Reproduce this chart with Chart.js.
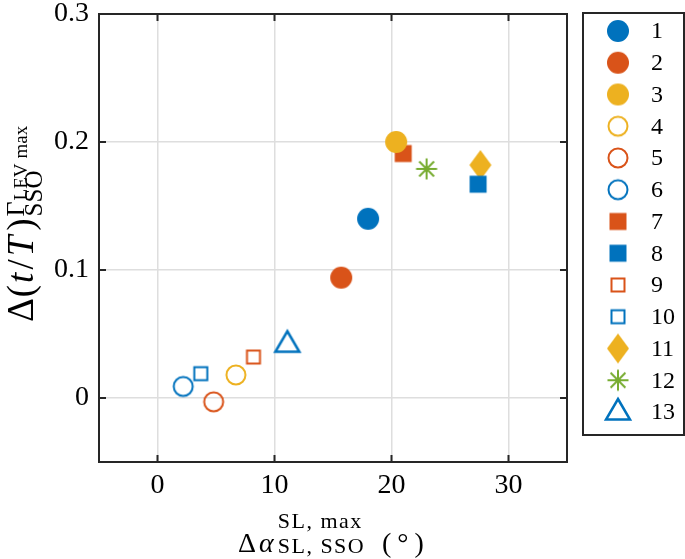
<!DOCTYPE html>
<html>
<head>
<meta charset="utf-8">
<script src="https://cdn.jsdelivr.net/npm/chart.js@4.4.1/dist/chart.umd.min.js"></script>
<style>
  html, body { margin: 0; padding: 0; background: #fff; }
  #chart { display: block; }
</style>
</head>
<body>
<canvas id="chart" width="685" height="559"></canvas>
<script>
// data
const seriesLabels = ['1', '2', '3', '4', '5', '6', '7', '8', '9', '10', '11', '12', '13'];
const xValues = [18.0, 15.7, 20.4, 6.7, 4.8, 2.2, 21.0, 27.4, 8.2, 3.7, 27.6, 23.0, 11.1];
const yValues = [0.140, 0.094, 0.200, 0.018, -0.003, 0.009, 0.191, 0.167, 0.032, 0.019, 0.182, 0.179, 0.042];
const xTicks = [0, 10, 20, 30];
const yTicks = [0, 0.1, 0.2, 0.3];

// marker styles (matlab default colours)
const BLUE = '#0072BD', ORANGE = '#D95319', YELLOW = '#EDB120', GREEN = '#77AC30';
const markerShapes = ['circle', 'circle', 'circle', 'circle', 'circle', 'circle',
  'square', 'square', 'square', 'square', 'diamond', 'asterisk', 'triangle'];
const markerColors = [BLUE, ORANGE, YELLOW, YELLOW, ORANGE, BLUE,
  ORANGE, BLUE, ORANGE, BLUE, YELLOW, GREEN, BLUE];
const markerFilled = [true, true, true, false, false, false,
  true, true, false, false, true, false, false];

const SERIF = '"Liberation Serif", "Times New Roman", serif';
const AXIS_COLOR = '#262626';
const GRID_COLOR = '#dedede';

function makeMarker(shape, color, filled) {
  const c = document.createElement('canvas');
  c.width = 32; c.height = 32;
  const g = c.getContext('2d');
  g.fillStyle = color;
  g.strokeStyle = color;
  g.lineWidth = 2;
  g.translate(16, 16);
  g.beginPath();
  if (shape === 'circle') {
    if (filled) g.arc(0, 0, 11, 0, Math.PI * 2);
    else g.arc(0, 0, 9.5, 0, Math.PI * 2);
  } else if (shape === 'square') {
    if (filled) g.rect(-8.5, -8.5, 17, 17);
    else g.rect(-6.5, -6.5, 13, 13);
  } else if (shape === 'diamond') {
    g.moveTo(0, -15); g.lineTo(11, 0); g.lineTo(0, 15); g.lineTo(-11, 0); g.closePath();
  } else if (shape === 'triangle') {
    g.lineWidth = 2.5;
    g.moveTo(0, -13); g.lineTo(12, 7.5); g.lineTo(-12, 7.5); g.closePath();
  } else if (shape === 'asterisk') {
    const r = 10.5, d = r * Math.SQRT1_2;
    g.moveTo(0, -r); g.lineTo(0, r);
    g.moveTo(-r, 0); g.lineTo(r, 0);
    g.moveTo(-d, -d); g.lineTo(d, d);
    g.moveTo(-d, d); g.lineTo(d, -d);
  }
  if (filled) g.fill(); else g.stroke();
  return c;
}

const markerImages = markerShapes.map((s, i) => makeMarker(s, markerColors[i], markerFilled[i]));

const datasets = seriesLabels.map((label, i) => ({
  label: label,
  data: [{ x: xValues[i], y: yValues[i] }],
  pointStyle: markerImages[i],
  pointRadius: 11,
  pointHoverRadius: 11,
  pointBorderWidth: 0
}));

// draws a run of [text, font, gap] pieces starting at x on baseline y
function drawRun(ctx, pieces, x, y) {
  pieces.forEach(([t, f, gap]) => {
    ctx.font = f;
    ctx.fillText(t, x, y);
    x += ctx.measureText(t).width + (gap || 0);
  });
  return x;
}

// box, inward ticks, legend and the latex-ish axis titles
const decorations = {
  id: 'decorations',
  afterDraw(chart) {
    const { ctx, chartArea: a } = chart;
    const xs = chart.scales.x, ys = chart.scales.y;
    ctx.save();
    ctx.strokeStyle = AXIS_COLOR;
    ctx.lineWidth = 2;
    ctx.beginPath();
    xTicks.forEach(v => {
      const px = xs.getPixelForValue(v);
      ctx.moveTo(px, a.bottom); ctx.lineTo(px, a.bottom - 7);
      ctx.moveTo(px, a.top); ctx.lineTo(px, a.top + 7);
    });
    yTicks.forEach(v => {
      const py = ys.getPixelForValue(v);
      ctx.moveTo(a.left, py); ctx.lineTo(a.left + 7, py);
      ctx.moveTo(a.right, py); ctx.lineTo(a.right - 7, py);
    });
    ctx.stroke();
    ctx.strokeRect(a.left, a.top, a.right - a.left, a.bottom - a.top);

    // legend
    const lx = a.right + 16, ly = a.top - 1, lw = 685 - lx - 1, lh = 422;
    ctx.strokeRect(lx, ly, lw, lh);
    ctx.fillStyle = '#000';
    ctx.font = '24px ' + SERIF;
    ctx.textBaseline = 'middle';
    ctx.textAlign = 'left';
    chart.data.datasets.forEach((ds, i) => {
      const cy = ly + 18 + i * 31.75;
      const img = ds.pointStyle;
      ctx.drawImage(img, lx + 35 - img.width / 2, cy - img.height / 2);
      ctx.fillText(ds.label, lx + 68, cy + 1);
    });

    ctx.textBaseline = 'alphabetic';

    // x title: Δα^{SL, max}_{SL, SSO} (°)
    const main = '28px ' + SERIF, mainIt = 'italic 28px ' + SERIF, scr = '22px ' + SERIF;
    const base = 552;
    let x = drawRun(ctx, [['Δ', main, 3], ['α', mainIt, 4]], 238, base);
    ctx.letterSpacing = '1.5px';
    ctx.font = scr;
    ctx.fillText('SL, max', x, base - 24);
    ctx.fillText('SL, SSO', x, base + 1);
    ctx.letterSpacing = '0px';
    drawRun(ctx, [['(', main, 6], ['°', main, 6], [')', main]], 382, base);

    // y title: Δ(t/T)^{Γ_LEV max}_{SSO}, rotated
    const yMain = '37px ' + SERIF, yMainIt = 'italic 37px ' + SERIF;
    const ySup = '26px ' + SERIF, ySub = '25px ' + SERIF, yTiny = '19px ' + SERIF;
    ctx.translate(33, 322);
    ctx.rotate(-Math.PI / 2);
    let y = drawRun(ctx, [['Δ', yMain, 1], ['(', yMain, 2], ['t', yMainIt, 3], ['/', yMain, 3],
      ['T', yMainIt, 5], [')', yMain, 2]], 0, 0);
    ctx.font = ySub;
    ctx.fillText('SSO', y, 9);
    ctx.font = ySup;
    ctx.fillText('Γ', y, -9);
    const y2 = y + ctx.measureText('Γ').width + 1;
    drawRun(ctx, [['LEV', yTiny, 5], ['max', yTiny]], y2, -6);
    ctx.restore();
  }
};

new Chart(document.getElementById('chart'), {
  type: 'scatter',
  data: { datasets: datasets },
  options: {
    responsive: false,
    animation: false,
    events: [],
    layout: { autoPadding: false, padding: { left: 0, top: 14, right: 118, bottom: 0 } },
    plugins: {
      legend: { display: false },
      tooltip: { enabled: false }
    },
    scales: {
      x: {
        type: 'linear',
        min: -5,
        max: 35,
        afterBuildTicks: s => { s.ticks = xTicks.map(v => ({ value: v })); },
        afterFit: s => { s.height = 97; s.paddingLeft = 0; s.paddingRight = 0; },
        grid: { color: GRID_COLOR, lineWidth: 1.5, drawTicks: false },
        border: { display: false },
        ticks: { font: { family: SERIF, size: 28 }, color: '#000', padding: 7, maxRotation: 0 }
      },
      y: {
        type: 'linear',
        min: -0.05,
        max: 0.3,
        afterBuildTicks: s => { s.ticks = yTicks.map(v => ({ value: v })); },
        // the top label may hang over the box edge, like in the figure
        afterFit: s => { s.width = 99; s.paddingTop = 0; s.paddingBottom = 0; },
        grid: { color: GRID_COLOR, lineWidth: 1.5, drawTicks: false },
        border: { display: false },
        ticks: { font: { family: SERIF, size: 28 }, color: '#000', padding: 10 }
      }
    }
  },
  plugins: [decorations]
});
</script>
</body>
</html>
